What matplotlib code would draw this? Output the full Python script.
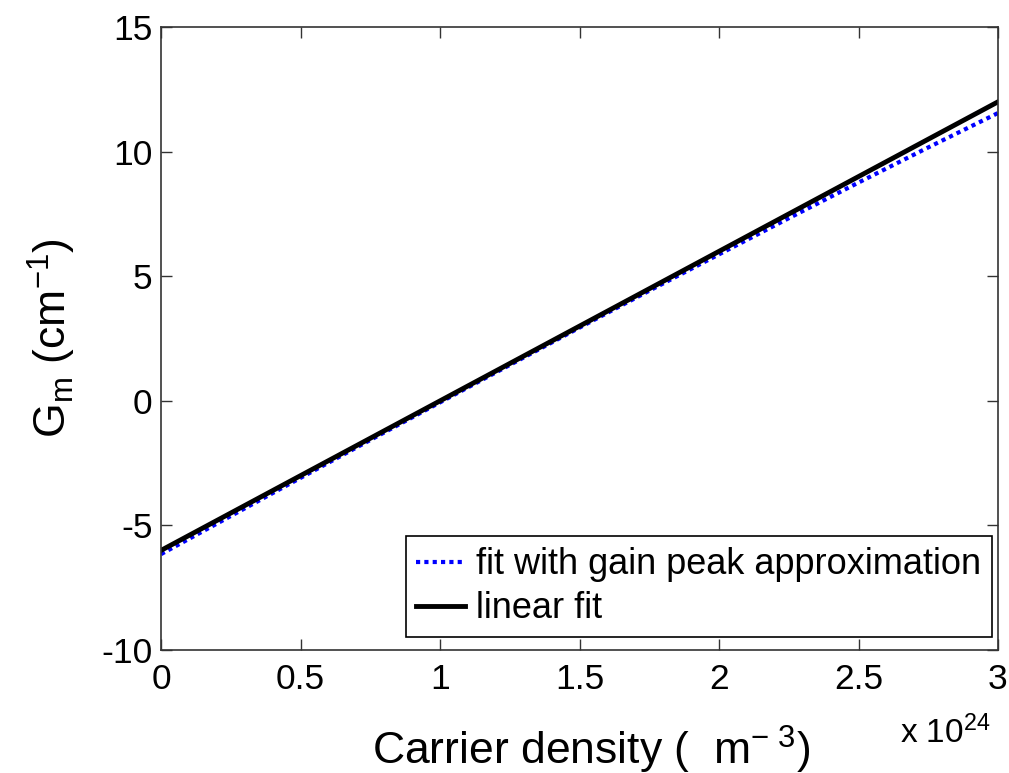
import matplotlib
matplotlib.use('Agg')
import matplotlib.pyplot as plt

plt.rcParams.update({
    'font.family': ['Liberation Sans', 'DejaVu Sans'],
    'mathtext.fontset': 'custom',
    'mathtext.rm': 'Liberation Sans',
    'mathtext.it': 'Liberation Sans',
    'axes.unicode_minus': False,
    'xtick.direction': 'in',
    'ytick.direction': 'in',
})

# carrier density, units of 1e24 m^-3
densidade = [0, 0.25, 0.5, 0.75, 1.0, 1.25, 1.5, 1.75, 2.0, 2.25, 2.5, 2.75, 3.0]
# fit with gain peak approximation (cm^-1)
ganho_pico = [-6.15, -4.62, -3.09, -1.57, -0.06, 1.44, 2.94, 4.42, 5.88, 7.33, 8.76, 10.17, 11.55]
# linear fit (cm^-1)
ganho_linear = [-6.0, -4.5, -3.0, -1.5, 0.0, 1.5, 3.0, 4.5, 6.0, 7.5, 9.0, 10.5, 12.0]

xticks = [0, 0.5, 1, 1.5, 2, 2.5, 3]
xtick_labels = ['0', '0.5', '1', '1.5', '2', '2.5', '3']
yticks = [-10, -5, 0, 5, 10, 15]

fig = plt.figure(figsize=(10.09, 7.73), dpi=100)
ax = fig.add_axes([0.1596, 0.159, 0.8295, 0.806])

ax.plot(densidade, ganho_pico, color='#0000ff', linestyle=(0, (1, 1)), linewidth=3.0,
        label='fit with gain peak approximation')
ax.plot(densidade, ganho_linear, color='black', linewidth=3.5, label='linear fit')

ax.set_xlim(0, 3)
ax.set_ylim(-10, 15)
ax.set_xticks(xticks)
ax.set_xticklabels(xtick_labels)
ax.set_yticks(yticks)
ax.tick_params(labelsize=25.5, length=8, width=1, top=True, right=True, color='#333333')
ax.tick_params(axis='x', pad=9)
ax.tick_params(axis='y', pad=6)
for s in ax.spines.values():
    s.set_linewidth(1.2)
    s.set_color('#333333')

ax.set_xlabel(r'Carrier density (  m$^{\mathregular{-\ 3}}$)', fontsize=32,
              ha='left', va='baseline')
ax.xaxis.set_label_coords(0.252, -0.1846)
ax.set_ylabel(r'G$_{\mathregular{m}}$ (cm$^{\mathregular{-1}}$)', fontsize=32)
ax.yaxis.set_label_coords(-0.099, 0.5)
fig.text(900 / 1009, 1 - 743 / 773, r'x 10$^{\mathregular{24}}$', fontsize=24,
         ha='left', va='baseline')

leg = ax.legend(loc='lower right', bbox_to_anchor=(0.9928, 0.0209), borderaxespad=0,
                fontsize=26, handlelength=1.35, handletextpad=0.3,
                borderpad=0.3, labelspacing=0.25, fancybox=False, framealpha=1)
leg.get_frame().set_edgecolor('black')
leg.get_frame().set_linewidth(1.2)

plt.savefig('out.png', dpi=100)
plt.close()
